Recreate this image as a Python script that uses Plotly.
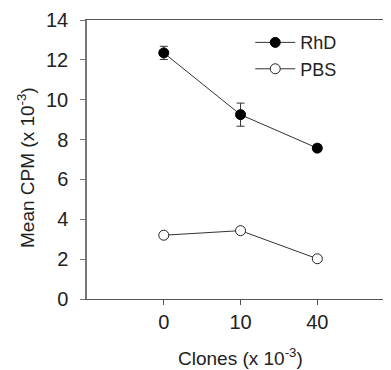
import plotly.graph_objects as go

categories = ["0", "10", "40"]
x_pos = [1, 2, 3]
rhd_values = [12.35, 9.25, 7.57]
rhd_errors = [0.33, 0.58, 0.15]
pbs_values = [3.2, 3.43, 2.02]
pbs_errors = [0.05, 0.1, 0.05]
y_ticks = [0, 2, 4, 6, 8, 10, 12, 14]

FONT = "Liberation Sans, Arial, sans-serif"
# page body has an 8px margin, so the figure is drawn 8px right/down
OFF = 8
W, H = 391 - OFF, 370 - OFF
L, R, T, B = 87 - OFF, 0, 20 - OFF, 71
pw, ph = W - L - R, H - T - B

fig = go.Figure()
fig.add_trace(go.Scatter(
    x=x_pos, y=rhd_values, name="RhD", mode="lines+markers",
    line=dict(color="#333333", width=1),
    marker=dict(color="black", size=10, line=dict(color="black", width=1)),
    error_y=dict(type="data", array=rhd_errors, color="#333333", thickness=1, width=4),
))
fig.add_trace(go.Scatter(
    x=x_pos, y=pbs_values, name="PBS", mode="lines+markers",
    line=dict(color="#333333", width=1),
    marker=dict(color="white", size=10, line=dict(color="#222222", width=1)),
    error_y=dict(type="data", array=pbs_errors, color="#333333", thickness=1, width=4),
))
fig.update_layout(
    width=W, height=H,
    margin=dict(l=L, r=R, t=T, b=B),
    plot_bgcolor="white", paper_bgcolor="white",
    font=dict(family=FONT, color="#222222"),
    showlegend=True,
    legend=dict(x=0.537, y=0.985, xanchor="left", yanchor="top",
                font=dict(size=18, color="#222222"), bgcolor="rgba(0,0,0,0)",
                itemwidth=40, tracegroupgap=0),
    xaxis=dict(range=[0, 3.96], tickvals=x_pos, ticktext=categories,
               showgrid=False, zeroline=False, showline=True, linecolor="#555555",
               linewidth=1, mirror=True, ticks="outside", ticklen=5, tickcolor="#555555",
               tickfont=dict(size=20)),
    yaxis=dict(range=[0, 14], tickvals=y_ticks, showgrid=False, zeroline=False,
               showline=True, linecolor="#777777", linewidth=1.5, ticks="outside",
               ticklen=5, tickcolor="#777777", tickfont=dict(size=20),
               ticklabelstandoff=8),
    annotations=[
        dict(text="Clones (x 10<sup>-3</sup>)", x=(240 - OFF - L) / pw,
             y=(H - B - (357 - OFF)) / ph,
             xref="paper", yref="paper", xanchor="center", yanchor="middle",
             showarrow=False, font=dict(size=19)),
        dict(text="Mean CPM (x 10<sup>-3</sup>)", x=(26 - OFF - L) / pw,
             y=(H - B - (168 - OFF)) / ph,
             xref="paper", yref="paper", xanchor="center", yanchor="middle",
             showarrow=False, textangle=-90, font=dict(size=19)),
    ],
)
fig.write_html("out.html")
